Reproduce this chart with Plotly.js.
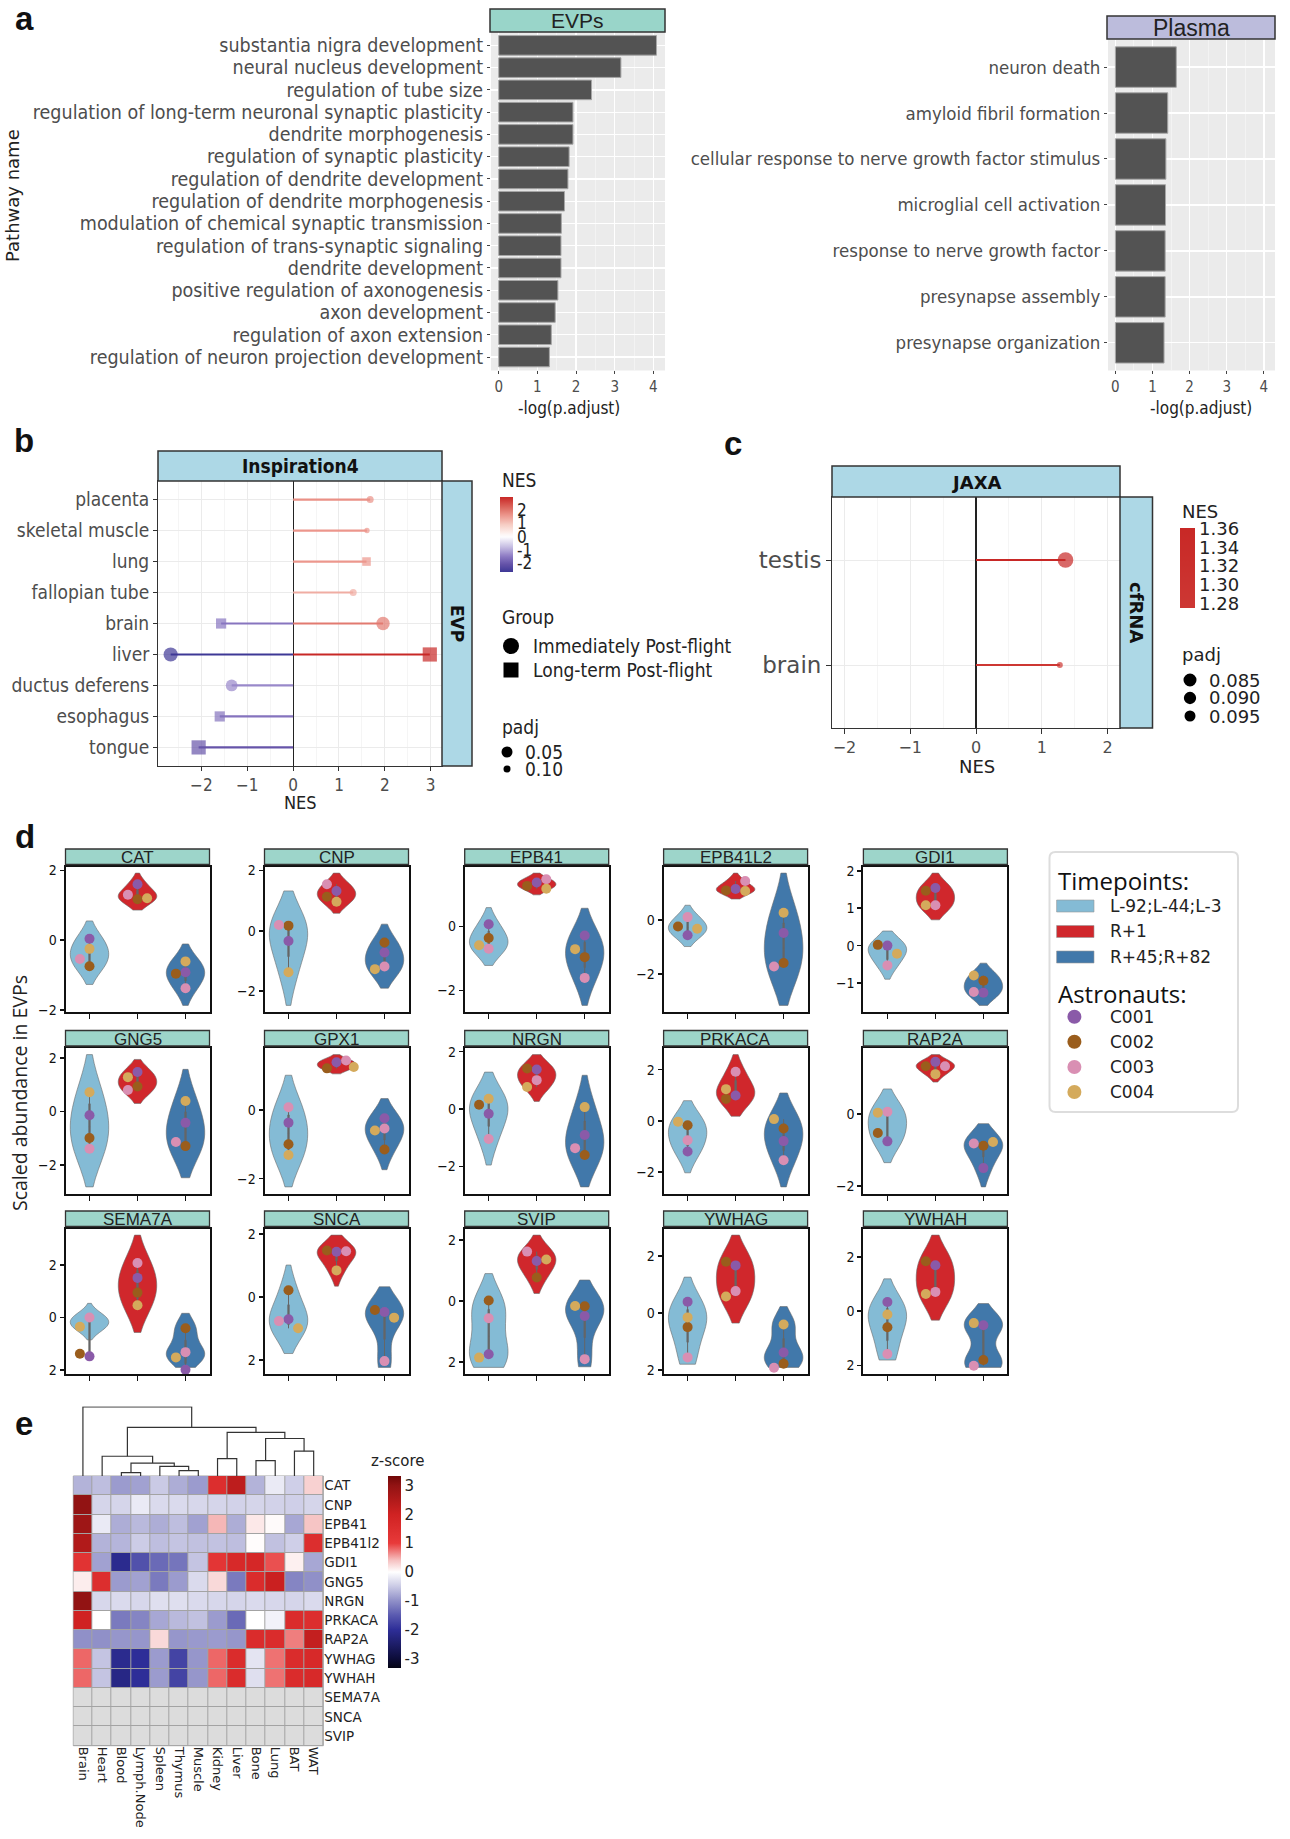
<!DOCTYPE html>
<html><head><meta charset="utf-8">
<script src="https://cdn.plot.ly/plotly-3.0.1.min.js"></script>
<style>html,body{margin:0;padding:0;background:#fff}#chart{width:1290px;height:1839px}</style>
</head><body><div id="chart"></div>
<script>
// ================= DATA =================
// Panel a
const evpPathways = ['substantia nigra development','neural nucleus development','regulation of tube size','regulation of long-term neuronal synaptic plasticity','dendrite morphogenesis','regulation of synaptic plasticity','regulation of dendrite development','regulation of dendrite morphogenesis','modulation of chemical synaptic transmission','regulation of trans-synaptic signaling','dendrite development','positive regulation of axonogenesis','axon development','regulation of axon extension','regulation of neuron projection development'];
const evpLogP = [4.08,3.16,2.40,1.92,1.92,1.82,1.79,1.70,1.62,1.61,1.61,1.53,1.46,1.36,1.31];
const plasmaPathways = ['neuron death','amyloid fibril formation','cellular response to nerve growth factor stimulus','microglial cell activation','response to nerve growth factor','presynapse assembly','presynapse organization'];
const plasmaLogP = [1.64,1.41,1.36,1.35,1.34,1.34,1.31];

// Panel b
const bTissues = ['placenta','skeletal muscle','lung','fallopian tube','brain','liver','ductus deferens','esophagus','tongue'];
const bTissue = ['placenta','skeletal muscle','lung','fallopian tube','brain','brain','liver','liver','ductus deferens','esophagus','tongue'];
const bGroup = ['Immediately Post-flight','Immediately Post-flight','Long-term Post-flight','Immediately Post-flight','Long-term Post-flight','Immediately Post-flight','Immediately Post-flight','Long-term Post-flight','Immediately Post-flight','Long-term Post-flight','Long-term Post-flight'];
const bNES = [1.68,1.61,1.60,1.31,-1.57,1.96,-2.67,2.98,-1.34,-1.60,-2.06];
const bPadj = [0.10,0.12,0.08,0.10,0.06,0.02,0.01,0.01,0.04,0.06,0.01];

// Panel c
const cTissues = ['testis','brain'];
const cNES = [1.361,1.275];
const cPadj = [0.083,0.097];

// Panel d  (values per astronaut: C001, C002, C003, C004)
const dGenes = ['CAT','CNP','EPB41','EPB41L2','GDI1','GNG5','GPX1','NRGN','PRKACA','RAP2A','SEMA7A','SNCA','SVIP','YWHAG','YWHAH'];
const astronauts = ['C001','C002','C003','C004'];
const timepoints = ['L-92;L-44;L-3','R+1','R+45;R+82'];
const dPre = [[0.04,-0.75,-0.54,-0.25],[-0.34,0.17,0.19,-1.37],[0.07,-0.36,-0.70,-0.59],[-0.57,-0.25,0.10,-0.33],[0.0,0.02,-0.53,-0.22],[-0.14,-0.99,-1.39,0.72],[-0.37,-1.00,0.08,-1.31],[-0.16,0.15,-1.04,0.36],[-1.20,-0.17,-0.76,-0.03],[-0.76,-0.53,0.06,0.03],[-1.48,-1.38,0.0,-0.35],[-0.70,0.22,-0.76,-0.99],[-1.74,0.02,-0.56,-1.85],[0.40,-0.49,-1.55,-0.15],[0.34,-0.59,-1.58,-0.12]];
const dR1 = [[1.60,1.17,1.30,1.20],[1.32,1.13,1.54,0.96],[1.375,1.27,1.48,1.18],[1.14,1.09,1.44,1.07],[1.54,1.47,1.08,1.08],[1.47,0.93,0.80,1.28],[1.39,1.21,1.44,1.25],[1.38,1.42,1.01,0.77],[0.99,0.86,1.92,1.24],[1.44,1.32,1.32,1.10],[1.51,0.95,2.08,0.47],[1.44,1.48,1.46,0.85],[1.31,0.77,1.62,1.36],[1.67,1.80,0.77,0.58],[1.69,1.84,0.71,0.63]];
const dPost = [[-0.92,-0.96,-1.38,-0.61],[-0.72,-0.39,-1.18,-1.27],[-0.28,-0.96,-1.61,-0.71],[-0.49,-1.60,-1.73,0.26],[-1.26,-0.94,-1.24,-0.80],[-0.42,-1.29,-1.14,0.39],[-0.24,-1.15,-0.54,-0.60],[-0.90,-1.60,-1.36,0.07],[-0.79,-0.30,-1.54,0.07],[-1.50,-0.88,-0.82,-0.78],[-1.99,-0.41,-1.32,-1.52],[-0.47,-0.41,-2.03,-0.65],[-0.49,-0.17,-1.90,-0.16],[-1.38,-1.77,-1.91,-0.40],[-0.52,-1.80,-2.01,-0.44]];
// violin extents [low, high]
const dPreSpan = [[-1.27,0.55],[-2.47,1.32],[-1.22,0.59],[-0.99,0.54],[-0.90,0.39],[-2.81,2.12],[-2.24,1.01],[-1.95,1.29],[-2.03,0.79],[-1.35,0.69],[-0.85,0.54],[-1.79,1.02],[-2.17,0.90],[-1.79,1.26],[-1.80,1.19]];
const dR1Span = [[0.86,1.92],[0.58,1.91],[0.99,1.67],[0.77,1.73],[0.69,1.94],[0.30,1.94],[1.05,1.61],[0.27,1.90],[0.18,2.59],[0.88,1.64],[-0.57,3.14],[0.35,1.97],[0.25,2.16],[-0.35,2.73],[-0.33,2.80]];
const dPostSpan = [[-1.87,-0.11],[-1.90,0.22],[-2.47,0.57],[-3.17,1.73],[-1.60,-0.47],[-2.47,1.57],[-1.74,0.33],[-2.71,1.18],[-2.58,1.09],[-2.02,-0.27],[-1.90,0.16],[-2.23,0.33],[-2.15,0.69],[-1.90,0.23],[-2.07,0.28]];

// Panel e
const eTissues = ['Brain','Heart','Blood','Lymph.Node','Spleen','Thymus','Muscle','Kidney','Liver','Bone','Lung','BAT','WAT'];
const eGenes = ['CAT','CNP','EPB41','EPB41l2','GDI1','GNG5','NRGN','PRKACA','RAP2A','YWHAG','YWHAH','SEMA7A','SNCA','SVIP'];
const eZ = [
 [-0.7,-0.6,-0.9,-0.85,-0.5,-0.75,-0.9,1.5,2.3,-0.7,-0.2,-0.45,0.3],
 [3.0,-0.4,-0.4,-0.2,-0.35,-0.35,-0.38,-0.4,-0.42,-0.4,-0.42,-0.45,-0.4],
 [2.8,-0.2,-0.75,-0.65,-0.75,-0.6,-0.85,0.45,-0.75,0.15,0.03,-0.8,0.38],
 [2.5,-0.7,-0.68,-0.48,-0.6,-0.55,-0.58,-0.57,-0.6,0.02,-0.58,-0.45,1.5],
 [1.3,-0.85,-2.1,-1.6,-1.35,-1.25,-0.55,1.2,1.7,1.8,0.9,0.1,-0.8],
 [0.12,1.5,-0.9,-0.85,-1.2,-0.9,-0.35,0.25,-1.2,1.6,2.1,-1.1,-1.0],
 [3.0,-0.38,-0.35,-0.38,-0.3,-0.3,-0.35,-0.38,-0.4,-0.35,-0.38,-0.4,-0.35],
 [2.0,0.0,-1.2,-1.1,-0.8,-0.65,-0.58,-0.9,-1.35,0.0,-0.12,1.6,1.5],
 [-1.0,-1.0,-0.95,-0.95,0.25,-0.95,-0.92,-0.9,-0.95,1.6,1.6,0.7,2.2],
 [0.8,-0.55,-2.1,-2.0,-0.9,-1.75,-0.95,0.8,1.6,-0.25,0.75,1.6,1.7],
 [0.8,-0.55,-2.2,-2.0,-0.9,-1.75,-0.95,0.8,1.6,-0.3,0.75,1.6,1.7],
 [null,null,null,null,null,null,null,null,null,null,null,null,null],
 [null,null,null,null,null,null,null,null,null,null,null,null,null],
 [null,null,null,null,null,null,null,null,null,null,null,null,null]
];
// dendrogram merges: [childA, childB, height]; leaves 0..12, merge k has id 13+k
const eMerges = [[2,3,10],[5,6,16],[4,14,28],[13,15,38],[1,16,58],[7,8,51],[9,10,45],[11,12,73],[19,20,110],[18,21,128],[17,22,143],[0,23,203]];

// ================= HELPERS =================
const W = 1290, H = 1839;
const px = x => x / W;
const py = y => 1 - y / H;
const COND = '"DejaVu Sans Condensed","Liberation Sans Narrow","DejaVu Sans",sans-serif';
const SANS = '"DejaVu Sans",sans-serif';
const ARIAL = '"Liberation Sans",Arial,sans-serif';
const OPEN = '"Open Sans","DejaVu Sans",sans-serif';

const traces = [];
const layout = {width:W,height:H,margin:{l:0,r:0,t:0,b:0,pad:0},paper_bgcolor:'#ffffff',plot_bgcolor:'rgba(0,0,0,0)',
  showlegend:false,shapes:[],annotations:[],violinmode:'overlay',boxmode:'overlay',font:{family:SANS,color:'#222'}};
let nAx = 0;
function axes(x0,x1,y0,y1,xo,yo){
  nAx++;
  const s = nAx===1?'':String(nAx);
  layout['xaxis'+s] = Object.assign({domain:[px(x0),px(x1)],anchor:'y'+s,fixedrange:true}, xo);
  layout['yaxis'+s] = Object.assign({domain:[py(y1),py(y0)],anchor:'x'+s,fixedrange:true}, yo);
  return {xa:'x'+s, ya:'y'+s};
}
function text(t,x,y,font,o){
  layout.annotations.push(Object.assign({text:t,x:px(x),y:py(y),xref:'paper',yref:'paper',showarrow:false,
    xanchor:'center',yanchor:'middle',font:font},o||{}));
}
function rect(x0,y0,x1,y1,fill,lc,lw,layer){
  layout.shapes.push({type:'rect',xref:'paper',yref:'paper',x0:px(x0),x1:px(x1),y0:py(y1),y1:py(y0),
    fillcolor:fill,line:{color:lc||'rgba(0,0,0,0)',width:lw||0},layer:layer||'above'});
}
function circ(cx,cy,d,fill){
  layout.shapes.push({type:'circle',xref:'paper',yref:'paper',x0:px(cx-d/2),x1:px(cx+d/2),y0:py(cy+d/2),y1:py(cy-d/2),
    fillcolor:fill,line:{width:0}});
}
function roundRect(x0,y0,x1,y1,r,lc,lw){
  const P=(x,y)=>px(x)+','+py(y);
  const path='M'+P(x0+r,y0)+' L'+P(x1-r,y0)+' Q'+P(x1,y0)+' '+P(x1,y0+r)+' L'+P(x1,y1-r)+' Q'+P(x1,y1)+' '+P(x1-r,y1)+
    ' L'+P(x0+r,y1)+' Q'+P(x0,y1)+' '+P(x0,y1-r)+' L'+P(x0,y0+r)+' Q'+P(x0,y0)+' '+P(x0+r,y0)+' Z';
  layout.shapes.push({type:'path',xref:'paper',yref:'paper',path:path,fillcolor:'rgba(0,0,0,0)',line:{color:lc,width:lw}});
}
const G2 = [[0,[42,42,140]],[0.15,[100,82,168]],[0.25,[140,122,195]],[0.35,[190,180,222]],[0.5,[255,255,255]],
            [0.65,[246,205,196]],[0.77,[236,150,140]],[0.85,[223,112,102]],[1,[200,40,38]]];
function g2(t){
  t=Math.max(0,Math.min(1,t));
  for(let i=1;i<G2.length;i++){
    if(t<=G2[i][0]){const t0=G2[i-1][0],c0=G2[i-1][1],t1=G2[i][0],c1=G2[i][1];const f=(t-t0)/(t1-t0);
      return 'rgb('+c0.map((v,j)=>Math.round(v+(c1[j]-v)*f)).join(',')+')';}
  }
  return 'rgb(200,40,38)';
}
const nesColor=(v,m)=>g2(0.5+v/(2*m));
function nesScale(lo,hi){const m=Math.max(Math.abs(lo),Math.abs(hi));const s=[];for(let i=0;i<=30;i++){s.push([i/30,nesColor(lo+(hi-lo)*i/30,m)]);}return s;}

// ================= PANEL LETTERS =================
const letterFont={family:ARIAL,size:33,color:'#111'};
text('<b>a</b>',24,19,letterFont);
text('<b>b</b>',24,440,letterFont);
text('<b>c</b>',733,443,letterFont);
text('<b>d</b>',25,836,letterFont);
text('<b>e</b>',24,1423,letterFont);

// ================= PANEL A =================
function barPanel(cats,vals,x0,x1,y0,y1,fs){
  const ax = axes(x0,x1,y0,y1,
    {type:'linear',range:[-0.2,4.3],dtick:1,tick0:0,ticks:'outside',ticklen:3,tickcolor:'#444',
     tickfont:{family:COND,size:15,color:'#4d4d4d'},showgrid:true,gridcolor:'#ffffff',gridwidth:1.3,
     minor:{dtick:0.5,tick0:0,showgrid:true,gridcolor:'#f7f7f7',gridwidth:0.7},zeroline:false,showline:false},
    {type:'category',categoryorder:'array',categoryarray:cats,range:[cats.length-0.4,-0.6],tickmode:'array',tickvals:cats,ticktext:cats,
     ticks:'outside',ticklen:3,tickcolor:'#444',tickfont:{family:COND,size:fs,color:'#4d4d4d'},showgrid:true,gridcolor:'#ffffff',
     gridwidth:1.3,zeroline:false,showline:false});
  rect(x0,y0,x1,y1,'#ebebeb',null,0,'below');
  traces.push({type:'bar',orientation:'h',x:vals,y:cats,xaxis:ax.xa,yaxis:ax.ya,width:0.88,
    marker:{color:'#535353',line:{color:'#a6a6a6',width:1}},hoverinfo:'skip'});
}
barPanel(evpPathways,evpLogP,491,665,32,370.4,19.5);
barPanel(plasmaPathways,plasmaLogP,1108,1275,39.5,370.4,18.5);
rect(490,9,665,32,'#99d5c9','#333',1.5);
text('EVPs',577.5,20.5,{family:ARIAL,size:21,color:'#222'});
rect(1107,16,1275,39,'#bcbcdc','#333',1.5);
text('Plasma',1191,27.5,{family:ARIAL,size:23,color:'#222'});
text('-log(p.adjust)',569,408,{family:COND,size:17,color:'#222'});
text('-log(p.adjust)',1201,408,{family:COND,size:17,color:'#222'});
text('Pathway name',13,196,{family:SANS,size:18,color:'#222'},{textangle:-90});

// ================= PANEL B =================
const bAx = axes(158,442,481,766,
  {type:'linear',range:[-2.946,3.246],dtick:1,tick0:0,ticks:'outside',ticklen:4,tickcolor:'#333',
   tickfont:{family:COND,size:17,color:'#4d4d4d'},showgrid:true,gridcolor:'#ebebeb',
   minor:{dtick:0.5,tick0:0,showgrid:true,gridcolor:'#f5f5f5'},zeroline:true,zerolinecolor:'#222',zerolinewidth:1.2,
   showline:true,mirror:true,linecolor:'#333',linewidth:1},
  {type:'linear',range:[bTissues.length-0.4,-0.6],tickvals:bTissues.map((t,i)=>i),ticktext:bTissues,ticks:'outside',ticklen:4,
   tickcolor:'#333',tickfont:{family:COND,size:19,color:'#4d4d4d'},showgrid:true,gridcolor:'#ebebeb',zeroline:false,
   showline:true,mirror:true,linecolor:'#333',linewidth:1});
const bMin=Math.min(...bNES), bMax=Math.max(...bNES), bM=Math.max(Math.abs(bMin),Math.abs(bMax));
const bScale = nesScale(bMin,bMax);
const bSize = p => Math.max(5, 15 - 80*p);
bNES.forEach((v,i)=>{
  const r = bTissues.indexOf(bTissue[i]);
  traces.push({type:'scatter',mode:'lines',x:[0,v],y:[r,r],xaxis:bAx.xa,yaxis:bAx.ya,line:{color:nesColor(v,bM),width:2.2},hoverinfo:'skip'});
});
['Immediately Post-flight','Long-term Post-flight'].forEach((g,gi)=>{
  const idx = bNES.map((v,i)=>i).filter(i=>bGroup[i]===g);
  traces.push({type:'scatter',mode:'markers',x:idx.map(i=>bNES[i]),y:idx.map(i=>bTissues.indexOf(bTissue[i])),
    xaxis:bAx.xa,yaxis:bAx.ya,hoverinfo:'skip',
    marker:{symbol:gi===0?'circle':'square',size:idx.map(i=>bSize(bPadj[i])),color:idx.map(i=>bNES[i]),
      colorscale:bScale,cmin:bMin,cmax:bMax,line:{width:0},showscale:gi===0,
      colorbar:{x:px(500),xanchor:'left',y:py(497),yanchor:'top',len:75,lenmode:'pixels',thickness:13,
        xpad:0,ypad:0,outlinewidth:0,tickvals:[-2,-1,0,1,2],ticktext:['-2','-1','0','1','2'],ticks:'',tickfont:{family:COND,size:17,color:'#222'}}}});
});
rect(158,451,442,481,'#add8e6','#333',1.5);
text('<b>Inspiration4</b>',300,466,{family:COND,size:19,color:'#111'});
rect(442,481,472,766,'#add8e6','#333',1.5);
text('<b>EVP</b>',457,624,{family:SANS,size:17,color:'#111'},{textangle:90});
text('NES',300,802,{family:COND,size:18,color:'#222'});
const legB={family:COND,size:19,color:'#222'};
text('NES',500,480,legB,{xanchor:'left'});
text('Group',500,617,legB,{xanchor:'left'});
layout.shapes.push({type:'circle',xref:'paper',yref:'paper',x0:px(503),x1:px(519),y0:py(654),y1:py(638),fillcolor:'#000',line:{width:0}});
rect(503.5,662.5,518.5,677.5,'#000',null,0);
text('Immediately Post-flight',531,646,legB,{xanchor:'left'});
text('Long-term Post-flight',531,670,legB,{xanchor:'left'});
text('padj',500,727,legB,{xanchor:'left'});
circ(507,752,bSize(0.05),'#000');
circ(507,769,bSize(0.10),'#000');
text('0.05',523,752,legB,{xanchor:'left'});
text('0.10',523,769,legB,{xanchor:'left'});

// ================= PANEL C =================
const cAx = axes(832,1120,497,728,
  {type:'linear',range:[-2.19,2.19],dtick:1,tick0:0,ticks:'outside',ticklen:5,tickcolor:'#333',
   tickfont:{family:SANS,size:16,color:'#4d4d4d'},showgrid:true,gridcolor:'#ebebeb',
   minor:{dtick:0.5,tick0:0,showgrid:true,gridcolor:'#f5f5f5'},zeroline:true,zerolinecolor:'#222',zerolinewidth:1.2,
   showline:true,mirror:true,linecolor:'#333',linewidth:1},
  {type:'linear',range:[cTissues.length-0.4,-0.6],tickvals:cTissues.map((t,i)=>i),ticktext:cTissues,ticks:'outside',ticklen:5,
   tickcolor:'#333',tickfont:{family:SANS,size:23,color:'#4d4d4d'},showgrid:true,gridcolor:'#ebebeb',zeroline:false,
   showline:true,mirror:true,linecolor:'#333',linewidth:1});
const cMin=Math.min(...cNES), cMax=Math.max(...cNES), cM=Math.max(Math.abs(cMin),Math.abs(cMax));
const cSize = p => 15.7 - (p-0.083)*693;
cNES.forEach((v,i)=>{
  traces.push({type:'scatter',mode:'lines',x:[0,v],y:[i,i],xaxis:cAx.xa,yaxis:cAx.ya,line:{color:nesColor(v,cM),width:2.2},hoverinfo:'skip'});
});
traces.push({type:'scatter',mode:'markers',x:cNES,y:cTissues.map((t,i)=>i),xaxis:cAx.xa,yaxis:cAx.ya,hoverinfo:'skip',
  marker:{size:cPadj.map(cSize),color:cNES,colorscale:nesScale(cMin,cMax),cmin:cMin,cmax:cMax,line:{width:0},showscale:true,
    colorbar:{x:px(1180),xanchor:'left',y:py(528),yanchor:'top',len:80,lenmode:'pixels',thickness:15,xpad:0,ypad:0,
      outlinewidth:0,tickvals:[1.28,1.30,1.32,1.34,1.36],tickformat:'.2f',ticks:'',tickfont:{family:SANS,size:18,color:'#222'}}}});
rect(832,466,1120,497,'#add8e6','#333',1.5);
text('<b>JAXA</b>',976,482,{family:SANS,size:18,color:'#111'});
rect(1120,497,1152.5,728,'#add8e6','#333',1.5);
text('<b>cfRNA</b>',1136,612,{family:SANS,size:18,color:'#111'},{textangle:90});
text('NES',976.6,766,{family:SANS,size:18,color:'#222'});
const legC={family:SANS,size:18,color:'#222'};
text('NES',1180,512,legC,{xanchor:'left'});
text('padj',1180,654,legC,{xanchor:'left'});
[[0.085,13,680],[0.090,12.3,698],[0.095,11,716]].forEach(k=>{
  circ(1190,k[2],k[1],'#000');
  text(k[0].toFixed(3),1207,k[2],legC,{xanchor:'left'});
});

// ================= PANEL D =================
const dCols=[65.5,264.5,464.7,663.6,863.4];
const dRowTop=[849,1030.5,1211];
const gVals=[dPre,dR1,dPost], gSpans=[dPreSpan,dR1Span,dPostSpan];
const gFill=['#84bbd5','#d0272c','#4178aa'];
const aCol=['#8a5aa8','#9a5d1c','#d98fb3','#d4aa5c'];
function swarm(vals, unitPx){
  const cand=[0,-0.2,0.2,-0.36,0.36], placed=[], offs=[];
  vals.forEach(v=>{
    let best=cand[cand.length-1];
    for(const c of cand){ if(placed.every(p=>Math.hypot((p.x-c)*48,(p.y-v)*unitPx)>=9.5)){best=c;break;} }
    placed.push({x:best,y:v}); offs.push(best);
  });
  return offs;
}
dGenes.forEach((g,i)=>{
  const r=Math.floor(i/5), c=i%5;
  const x0=dCols[c], x1=x0+144, st=dRowTop[r], pt=st+17.5, pb=pt+145.5;
  let lo=Infinity, hi=-Infinity;
  gSpans.forEach(s=>{lo=Math.min(lo,s[i][0]);hi=Math.max(hi,s[i][1]);});
  const pad=0.05*(hi-lo), yr=[lo-pad,hi+pad];
  const step = g==='GDI1'?1:2;
  const tv=[]; for(let t=Math.ceil(yr[0]/step)*step;t<=yr[1]+1e-9;t+=step) tv.push(t);
  const tt=tv.map(t=> r===2 ? String(Math.abs(t)) : (t<0?'\u2212'+(-t):String(t)));
  const ax=axes(x0,x1,pt,pb,
    {type:'linear',range:[0.5,3.5],tickvals:[1,2,3],ticktext:['','',''],ticks:'outside',ticklen:5,tickwidth:1.5,tickcolor:'#111',
     showgrid:false,zeroline:false,showline:true,mirror:true,linecolor:'#111',linewidth:2},
    {type:'linear',range:yr,tickvals:tv,ticktext:tt,ticks:'outside',ticklen:4,tickwidth:1.5,tickcolor:'#111',
     tickfont:{family:COND,size:14,color:'#111'},showgrid:false,zeroline:false,showline:true,mirror:true,linecolor:'#111',linewidth:2});
  const unitPx = 145.5/(yr[1]-yr[0]);
  const allX=[], allY=[], allC=[];
  gVals.forEach((gv,k)=>{
    const vals=gv[i], sp=gSpans[k][i];
    let inside=vals.filter(v=>v>=sp[0]-1e-9&&v<=sp[1]+1e-9);
    if(!inside.length) inside=[(sp[0]+sp[1])/2];
    const mn=Math.min(...inside), mx=Math.max(...inside);
    const bw=Math.max(((sp[1]-sp[0])-(mx-mn))/6,(sp[1]-sp[0])/5);
    traces.push({type:'violin',x0:k+1,y:inside,xaxis:ax.xa,yaxis:ax.ya,width:0.8,scalemode:'width',spanmode:'manual',span:sp,
      bandwidth:bw,fillcolor:gFill[k],line:{color:'#6a6a6a',width:0.6},points:false,box:{visible:false},meanline:{visible:false},
      opacity:1,hoverinfo:'skip',name:timepoints[k]});
    traces.push({type:'box',x0:k+1,y:vals,xaxis:ax.xa,yaxis:ax.ya,width:0.025,fillcolor:'#666',line:{color:'#666',width:1},
      boxpoints:false,whiskerwidth:0,hoverinfo:'skip',name:timepoints[k]});
    const offs=swarm(vals,unitPx);
    vals.forEach((v,a)=>{allX.push(k+1+offs[a]);allY.push(v);allC.push(aCol[a]);});
  });
  traces.push({type:'scatter',mode:'markers',x:allX,y:allY,xaxis:ax.xa,yaxis:ax.ya,hoverinfo:'skip',
    marker:{size:10,color:allC,line:{width:0}},cliponaxis:false});
  rect(x0,st,x1,st+15.5,'#9dd5ca','#333',1.3);
  text(g,(x0+x1)/2,st+8.5,{family:ARIAL,size:17,color:'#222'});
});
text('Scaled abundance in EVPs',19,1093,{family:OPEN,size:19.5,color:'#222'},{textangle:-90});
// legend d
roundRect(1049.5,852,1238,1112,6,'#dddddd',2);
text('Timepoints:',1056,880,{family:OPEN,size:24,color:'#111'},{xanchor:'left'});
[906,931.5,957].forEach((y,k)=>{
  rect(1056.6,y-6,1094,y+6,gFill[k],'#999',0.6);
  text(timepoints[k],1108,y,{family:SANS,size:17,color:'#222'},{xanchor:'left'});
});
text('Astronauts:',1056,993,{family:OPEN,size:24,color:'#111'},{xanchor:'left'});
[1016.7,1041.7,1067,1092].forEach((y,a)=>{
  circ(1074.4,y,14,aCol[a]);
  text(astronauts[a],1108,y,{family:SANS,size:17,color:'#222'},{xanchor:'left'});
});

// ================= PANEL E =================
const hx0=73.3, hx1=323.3, hy0=1476, hy1=1745.7;
const eScale=[[0,'#050514'],[0.05,'#0d0d3a'],[0.2,'#2e2e98'],[0.275,'#5a5ab0'],[0.35,'#9090c8'],[0.425,'#cacae5'],
  [0.5,'#ffffff'],[0.56,'#f6c2c2'],[0.65,'#e83a3a'],[0.8,'#d02222'],[0.95,'#921313'],[1,'#700808']];
const eAx=axes(hx0,hx1,hy0,hy1,
  {type:'linear',range:[-0.5,eTissues.length-0.5],tickvals:eTissues.map((t,i)=>i),ticktext:eTissues,tickangle:90,ticks:'',
   tickfont:{family:SANS,size:13,color:'#222'},showgrid:false,zeroline:false,showline:false},
  {type:'linear',range:[eGenes.length-0.5,-0.5],tickvals:eGenes.map((t,i)=>i),ticktext:eGenes,side:'right',ticks:'',
   tickfont:{family:SANS,size:13.5,color:'#222'},showgrid:false,zeroline:false,showline:false});
rect(hx0,hy0,hx1,hy1,'#a3a3a3','#a3a3a3',1,'below');
traces.push({type:'heatmap',z:eZ,x:eTissues.map((t,i)=>i),y:eGenes.map((t,i)=>i),xaxis:eAx.xa,yaxis:eAx.ya,xgap:1,ygap:1,
  zmin:-3.33,zmax:3.33,colorscale:eScale,hoverinfo:'skip',
  colorbar:{x:px(387.7),xanchor:'left',y:py(1476),yanchor:'top',len:192,lenmode:'pixels',thickness:13,xpad:0,ypad:0,
    outlinewidth:0,tickvals:[-3,-2,-1,0,1,2,3],ticktext:['-3','-2','-1','0','1','2','3'],ticks:'',tickfont:{family:SANS,size:15,color:'#222'}}});
const eNA = eZ.map(row=>row.map(v=>v===null?1:null));
traces.push({type:'heatmap',z:eNA,x:eTissues.map((t,i)=>i),y:eGenes.map((t,i)=>i),xaxis:eAx.xa,yaxis:eAx.ya,xgap:1,ygap:1,
  zmin:0,zmax:1,colorscale:[[0,'#dcdcdc'],[1,'#dcdcdc']],showscale:false,hoverinfo:'skip'});
text('z-score',398,1461,{family:SANS,size:15,color:'#222'});
// dendrogram
const dAx=axes(hx0,hx1,1406.5,hy0,{type:'linear',range:[-0.5,eTissues.length-0.5],visible:false},
  {type:'linear',range:[0,204],visible:false});
const pos={}, ht={};
eTissues.forEach((t,i)=>{pos[i]=i;ht[i]=0;});
const dx=[], dy=[];
eMerges.forEach((m,k)=>{
  const id=eTissues.length+k, a=m[0], b=m[1], h=m[2];
  pos[id]=(pos[a]+pos[b])/2; ht[id]=h;
  dx.push(pos[a],pos[a],pos[b],pos[b],null); dy.push(ht[a],h,h,ht[b],null);
});
traces.push({type:'scatter',mode:'lines',x:dx,y:dy,xaxis:dAx.xa,yaxis:dAx.ya,line:{color:'#333',width:1.2},hoverinfo:'skip',cliponaxis:false});

Plotly.newPlot('chart',traces,layout,{staticPlot:true,displayModeBar:false});
</script></body></html>
